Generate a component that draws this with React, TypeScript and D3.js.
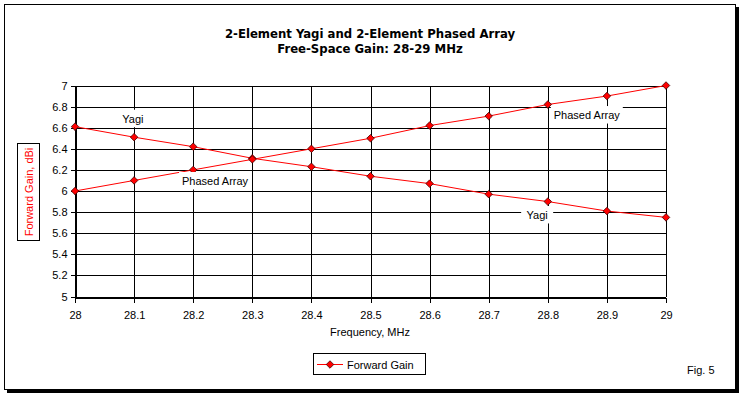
import { useEffect, useRef } from 'react'
import * as d3 from 'd3'

// frequency points (MHz)
const freqs = [28, 28.1, 28.2, 28.3, 28.4, 28.5, 28.6, 28.7, 28.8, 28.9, 29]
// forward gain, dBi
const yagiGain = [6.61, 6.51, 6.42, 6.31, 6.23, 6.14, 6.07, 5.97, 5.9, 5.81, 5.75]
const phasedGain = [6.0, 6.1, 6.2, 6.3, 6.4, 6.5, 6.62, 6.71, 6.82, 6.9, 7.0]
const yTicks = [5, 5.2, 5.4, 5.6, 5.8, 6, 6.2, 6.4, 6.6, 6.8, 7]
// series name labels
const labelText = ['Yagi', 'Phased Array', 'Phased Array', 'Yagi']
const labelFreq = [28.098, 28.237, 28.866, 28.782]
const labelGain = [6.685, 6.095, 6.72, 5.773]

const FONT = '"Liberation Sans", Arial, sans-serif'
const NARROW = '"Liberation Sans Narrow", "Arial Narrow", "DejaVu Sans Condensed", sans-serif'

export default function App() {
    const svgRef = useRef<SVGSVGElement>(null)

    useEffect(() => {
        document.body.style.margin = '0'
        const svg = d3.select(svgRef.current)
        svg.selectAll('*').remove()

        const width = 744
        const height = 398
        const left = 75, right = 666, top = 85.5, bottom = 296.5

        svg.attr('width', width).attr('height', height)
        svg.append('rect').attr('width', width).attr('height', height).attr('fill', 'white')

        // frame with shadow
        svg.append('rect').attr('x', 7).attr('y', 7).attr('width', 732).attr('height', 386).attr('fill', 'black')
        svg.append('rect').attr('x', 4.5).attr('y', 4.5).attr('width', 731).attr('height', 385)
            .attr('fill', 'white').attr('stroke', 'black')

        const x = d3.scaleLinear().domain([28, 29]).range([left, right])
        const y = d3.scaleLinear().domain([5, 7]).range([bottom, top])

        // title
        const title = svg.append('g')
            .attr('font-family', NARROW)
            .attr('font-weight', 'bold')
            .attr('font-size', 13)
            .attr('text-anchor', 'middle')
        title.append('text').attr('x', 370).attr('y', 38).text('2-Element Yagi and 2-Element Phased Array')
        title.append('text').attr('x', 370).attr('y', 53).text('Free-Space Gain: 28-29 MHz')

        // gridlines
        const grid = svg.append('g').attr('stroke', 'black').attr('shape-rendering', 'crispEdges')
        grid.selectAll('line.h').data(yTicks).join('line')
            .attr('x1', left).attr('x2', right)
            .attr('y1', (d) => Math.round(y(d)) + 0.5).attr('y2', (d) => Math.round(y(d)) + 0.5)
        grid.selectAll('line.v').data(freqs).join('line')
            .attr('y1', top).attr('y2', bottom)
            .attr('x1', (d) => Math.round(x(d)) + 0.5).attr('x2', (d) => Math.round(x(d)) + 0.5)

        // axes
        const yAxis = svg.append('g')
            .attr('transform', `translate(${left + 0.5},0)`)
            .call(d3.axisLeft(y).tickValues(yTicks).tickFormat((d) => String(+d)).tickSize(5).tickSizeOuter(0).tickPadding(3))
        const xAxis = svg.append('g')
            .attr('transform', `translate(0,${Math.round(bottom) + 0.5})`)
            .call(d3.axisBottom(x).tickValues(freqs).tickFormat((d) => String(+d)).tickSize(5).tickSizeOuter(0).tickPadding(9))
        ;[yAxis, xAxis].forEach((a) => {
            a.selectAll('path, line').attr('stroke', 'black').attr('shape-rendering', 'crispEdges')
            a.selectAll('text').attr('font-family', FONT).attr('font-size', 11).attr('fill', 'black')
        })

        // axis titles
        svg.append('text').attr('x', 370).attr('y', 336).attr('text-anchor', 'middle')
            .attr('font-family', FONT).attr('font-size', 11).text('Frequency, MHz')
        svg.append('rect').attr('x', 17.5).attr('y', 143.5).attr('width', 22).attr('height', 97)
            .attr('fill', 'white').attr('stroke', 'black')
        svg.append('text').attr('transform', 'translate(32.5,192) rotate(-90)').attr('text-anchor', 'middle')
            .attr('font-family', FONT).attr('font-size', 11).attr('fill', 'red').text('Forward Gain,  dBi')

        // series
        const line = d3.line<number>().x((d, i) => x(freqs[i])).y((d) => y(d))
        const series = [yagiGain, phasedGain]
        series.forEach((s) => {
            svg.append('path').attr('d', line(s)).attr('fill', 'none').attr('stroke', 'red').attr('stroke-width', 1)
        })
        const diamond = d3.symbol().type(d3.symbolDiamond2).size(36)
        series.forEach((s) => {
            svg.append('g').selectAll('path').data(s).join('path')
                .attr('d', diamond)
                .attr('transform', (d, i) => `translate(${x(freqs[i])},${y(d)})`)
                .attr('fill', 'red').attr('stroke', '#400000').attr('stroke-width', 0.8)
        })

        // data labels with white boxes
        labelText.forEach((t, i) => {
            const cx = x(labelFreq[i]), cy = y(labelGain[i])
            const w = t.length > 5 ? 72 : 32
            svg.append('rect').attr('x', cx - w / 2).attr('y', cy - 9).attr('width', w).attr('height', 17.5).attr('fill', 'white')
            svg.append('text').attr('x', cx).attr('y', cy + 4).attr('text-anchor', 'middle')
                .attr('font-family', FONT).attr('font-size', 11).text(t)
        })

        // legend
        svg.append('rect').attr('x', 313.5).attr('y', 353.5).attr('width', 112).attr('height', 21)
            .attr('fill', 'white').attr('stroke', 'black')
        svg.append('line').attr('x1', 317).attr('x2', 343).attr('y1', 364.5).attr('y2', 364.5).attr('stroke', 'red')
        svg.append('path').attr('d', diamond).attr('transform', 'translate(330,364.5)')
            .attr('fill', 'red').attr('stroke', '#400000').attr('stroke-width', 0.8)
        svg.append('text').attr('x', 347).attr('y', 368.5).attr('font-family', FONT).attr('font-size', 11).text('Forward Gain')

        svg.append('text').attr('x', 687).attr('y', 374).attr('font-family', FONT).attr('font-size', 11).text('Fig. 5')
    }, [])

    return <svg ref={svgRef}></svg>
}
